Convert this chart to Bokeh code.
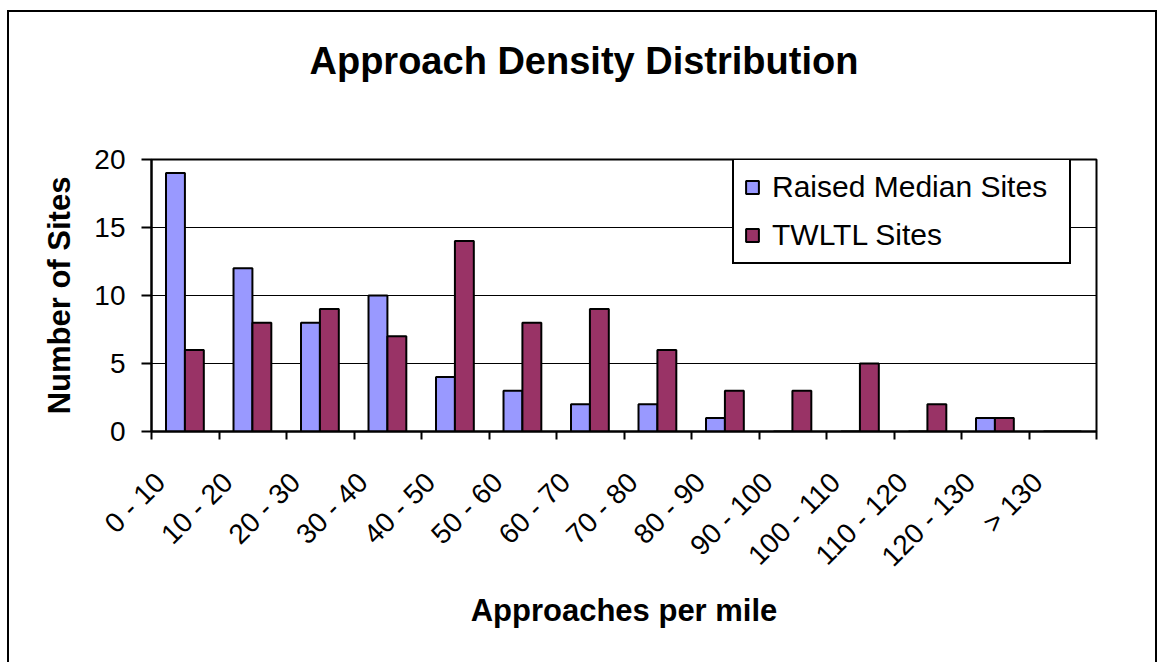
import math
from bokeh.plotting import figure
from bokeh.models import (ColumnDataSource, Range1d, FixedTicker, CustomJSTickFormatter,
                          Legend, LegendItem, InlineStyleSheet)
from bokeh.transform import dodge
from bokeh.embed import file_html
from bokeh.resources import INLINE

# ---- data ----
categories = ["0 - 10", "10 - 20", "20 - 30", "30 - 40", "40 - 50", "50 - 60", "60 - 70",
              "70 - 80", "80 - 90", "90 - 100", "100 - 110", "110 - 120", "120 - 130", "> 130"]
raised_median = [19, 12, 8, 10, 4, 3, 2, 2, 1, 0, 0, 0, 1, 0]
twltl = [6, 8, 9, 7, 14, 8, 9, 6, 3, 3, 5, 2, 1, 0]
y_ticks = [0, 5, 10, 15, 20]
series_names = ["Raised Median Sites", "TWLTL Sites"]

FONT = "Liberation Sans"
BLUE = "#9999FF"
RED = "#993366"

n = len(categories)
centers = [i + 0.5 for i in range(n)]
src = ColumnDataSource(dict(x=centers, raised=raised_median, twltl=twltl))

p = figure(width=1157, height=662, output_backend="svg", toolbar_location=None,
           x_range=Range1d(0, n), y_range=Range1d(0, 20),
           min_border_left=151, min_border_right=61, min_border_top=159, min_border_bottom=231,
           background_fill_color="white", border_fill_color="white")

bw = 0.28
r1 = p.vbar(x=dodge("x", -0.145, range=p.x_range), top="raised", width=bw, source=src,
            fill_color=BLUE, line_color="black", line_width=2)
r2 = p.vbar(x=dodge("x", 0.135, range=p.x_range), top="twltl", width=bw, source=src,
            fill_color=RED, line_color="black", line_width=2)

# title (trailing blank line lifts the text higher above the frame)
p.title.text = "Approach Density Distribution\n"
p.title.align = "left"
p.title.offset = 158
p.title.text_font = FONT
p.title.text_font_size = "38px"
p.title.text_font_style = "bold"
p.title.text_color = "black"
p.title.standoff = 72

# frame
p.outline_line_color = "black"
p.outline_line_width = 2

# grids
p.xgrid.grid_line_color = None
p.ygrid.grid_line_color = "black"
p.ygrid.grid_line_width = 1
p.ygrid.ticker = FixedTicker(ticks=y_ticks)

# y axis
ya = p.yaxis[0]
ya.ticker = FixedTicker(ticks=y_ticks)
ya.axis_line_width = 2
ya.major_tick_line_width = 2
ya.major_tick_out = 10
ya.major_tick_in = 0
ya.minor_tick_line_color = None
ya.major_label_text_font = FONT
ya.major_label_text_font_size = "28px"
ya.major_label_text_color = "black"
ya.major_label_standoff = 16
ya.axis_label = "Number of Sites"
ya.axis_label_text_font = FONT
ya.axis_label_text_font_size = "31px"
ya.axis_label_text_font_style = "bold"
ya.axis_label_text_color = "black"
ya.axis_label_standoff = 14

# x axis: ticks at category boundaries, labels near centers
xa = p.xaxis[0]
label_pos = [i + 0.13 for i in range(n)]
xa.ticker = FixedTicker(ticks=label_pos, minor_ticks=list(range(n + 1)))
xa.formatter = CustomJSTickFormatter(args=dict(labels=categories),
                                     code="return labels[Math.floor(tick)];")
xa.axis_line_width = 2
xa.major_tick_line_color = None
xa.major_tick_out = 0
xa.major_tick_in = 0
xa.minor_tick_line_color = "black"
xa.minor_tick_line_width = 2
xa.minor_tick_out = 8
xa.minor_tick_in = 0
xa.major_label_orientation = math.pi / 4
xa.major_label_text_font = FONT
xa.major_label_text_font_size = "28px"
xa.major_label_text_color = "black"
xa.major_label_standoff = 38
xa.axis_label = "Approaches per mile"
xa.axis_label_text_font = FONT
xa.axis_label_text_font_size = "31px"
xa.axis_label_text_font_style = "bold"
xa.axis_label_text_color = "black"
xa.axis_label_standoff = 7

# legend
legend = Legend(items=[LegendItem(label=series_names[0], renderers=[r1]),
                       LegendItem(label=series_names[1], renderers=[r2])],
                location=(581, 167))
legend.border_line_color = "black"
legend.border_line_alpha = 1
legend.border_line_width = 2
legend.background_fill_color = "white"
legend.background_fill_alpha = 1
legend.label_text_font = FONT
legend.label_text_font_size = "30px"
legend.label_text_color = "black"
legend.glyph_width = 16
legend.glyph_height = 16
legend.label_standoff = 12
legend.label_width = 287
legend.padding = 10
legend.spacing = 14
legend.margin = 0
p.add_layout(legend)

# outer chart border (drawn with CSS over the canvas)
p.styles = {"position": "relative"}
p.stylesheets = [InlineStyleSheet(css=(
    ":host::after{content:'';position:absolute;left:7px;top:10px;right:0px;bottom:0px;"
    "border:2px solid black;border-bottom:none;pointer-events:none;box-sizing:border-box;z-index:10;}"))]

open("out.html", "w").write(file_html(p, INLINE))
